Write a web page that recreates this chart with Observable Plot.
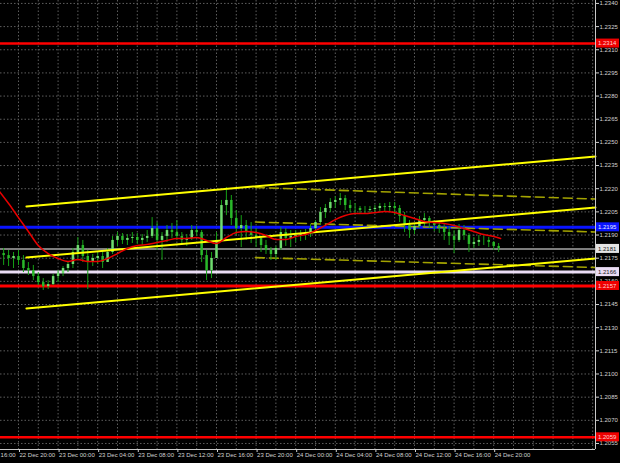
<!DOCTYPE html>
<html><head><meta charset="utf-8">
<script src="https://cdn.jsdelivr.net/npm/d3@7"></script>
<script src="https://cdn.jsdelivr.net/npm/@observablehq/plot@0.6"></script>
<style>html,body{margin:0;padding:0;background:#000;overflow:hidden}</style>
</head><body><div id="chart"></div>
<script>
// ---- price bars (30-minute bars starting 22 Dec 18:30) ----
const barStart = "2020-12-22T18:30Z";
const barStepMinutes = 30;
const firstOpen = 1.21780;
const highs = [
1.21813,1.21800,1.21787,1.21800,1.21767,1.21722,1.21703,1.21657,1.21618,1.21605,
1.21644,1.21670,1.21696,1.21722,1.21813,1.21884,1.21865,1.21800,1.21774,1.21787,
1.21800,1.21813,1.21891,1.21916,1.21910,1.21903,1.21916,1.21910,1.21903,1.21929,
1.22013,1.21981,1.21916,1.21962,1.21975,1.21994,1.21916,1.21903,1.21962,1.21955,
1.21929,1.21800,1.21787,1.21916,1.22124,1.22208,1.22156,1.22059,1.22026,1.21994,
1.21981,1.21942,1.21891,1.21865,1.21819,1.21826,1.21949,1.21942,1.21929,1.21929,
1.21929,1.21936,1.21968,1.21994,1.22078,1.22098,1.22136,1.22149,1.22169,1.22156,
1.22124,1.22104,1.22085,1.22085,1.22085,1.22091,1.22104,1.22104,1.22111,1.22111,
1.22091,1.22046,1.21994,1.21975,1.22020,1.22039,1.22020,1.21994,1.21981,1.21968,
1.21955,1.21929,1.21968,1.21962,1.21910,1.21884,1.21897,1.21891,1.21884,1.21858,
1.21845];
const lows = [
1.21703,1.21696,1.21683,1.21703,1.21657,1.21638,1.21605,1.21573,1.21541,1.21547,
1.21573,1.21592,1.21631,1.21657,1.21683,1.21748,1.21722,1.21547,1.21696,1.21709,
1.21683,1.21722,1.21774,1.21826,1.21839,1.21832,1.21845,1.21839,1.21832,1.21852,
1.21878,1.21800,1.21735,1.21852,1.21878,1.21865,1.21832,1.21826,1.21865,1.21891,
1.21722,1.21605,1.21618,1.21748,1.21865,1.22026,1.21962,1.21897,1.21819,1.21865,
1.21845,1.21819,1.21787,1.21774,1.21735,1.21735,1.21800,1.21826,1.21819,1.21852,
1.21858,1.21865,1.21884,1.21916,1.21968,1.22007,1.22046,1.22072,1.22091,1.22059,
1.22046,1.22039,1.22033,1.22033,1.22039,1.22039,1.22046,1.22046,1.22046,1.22026,
1.21981,1.21916,1.21878,1.21903,1.21942,1.21955,1.21942,1.21923,1.21910,1.21865,
1.21832,1.21780,1.21852,1.21865,1.21787,1.21813,1.21826,1.21832,1.21819,1.21800,
1.21787];
const closes = [
1.21767,1.21748,1.21761,1.21735,1.21683,1.21670,1.21631,1.21592,1.21566,1.21579,
1.21631,1.21651,1.21683,1.21709,1.21787,1.21832,1.21761,1.21722,1.21748,1.21761,
1.21722,1.21787,1.21865,1.21891,1.21865,1.21878,1.21884,1.21865,1.21878,1.21891,
1.21942,1.21865,1.21891,1.21929,1.21916,1.21891,1.21865,1.21878,1.21929,1.21916,
1.21767,1.21670,1.21748,1.21865,1.22091,1.22124,1.22007,1.21942,1.21962,1.21916,
1.21897,1.21878,1.21832,1.21800,1.21774,1.21813,1.21916,1.21878,1.21891,1.21897,
1.21910,1.21916,1.21942,1.21981,1.22046,1.22072,1.22111,1.22124,1.22136,1.22091,
1.22072,1.22072,1.22059,1.22059,1.22065,1.22072,1.22085,1.22078,1.22085,1.22072,
1.22020,1.21962,1.21929,1.21955,1.21994,1.22007,1.21975,1.21962,1.21942,1.21916,
1.21891,1.21865,1.21929,1.21897,1.21839,1.21852,1.21865,1.21865,1.21852,1.21826,
1.21813];

// ---- moving average (hourly from 22 Dec 18:00) ----
const maStart = "2020-12-22T18:00Z";
const maValues = [
1.22188,1.22104,1.22013,1.21923,1.21832,1.21780,1.21748,1.21729,1.21742,1.21729,
1.21729,1.21748,1.21780,1.21813,1.21832,1.21839,1.21852,1.21865,1.21878,1.21878,
1.21884,1.21865,1.21845,1.21884,1.21916,1.21923,1.21916,1.21897,1.21871,1.21871,
1.21891,1.21903,1.21929,1.21962,1.22000,1.22026,1.22039,1.22039,1.22046,1.22052,
1.22046,1.22026,1.22007,1.21988,1.21981,1.21975,1.21962,1.21942,1.21923,1.21903,
1.21891];
const maLastTime = "2020-12-24T20:42Z";
const maLastValue = 1.21878;

// ---- trend channel (solid) and regression lines (dashed) ----
const channelTimes = ["2020-12-22T20:48Z", "2020-12-25T06:17Z"];
const channelUpper = [1.22085, 1.22409];
const channelMiddle = [1.21754, 1.22078];
const channelLower = [1.21424, 1.21748];
const dashTimes = ["2020-12-23T19:56Z", "2020-12-25T06:17Z"];
const dashUpper = [1.22208, 1.22133];
const dashMiddle = [1.21984, 1.21920];
const dashLower = [1.21754, 1.21690];

// ---- horizontal levels ----
const levels = [1.2314, 1.2195, 1.2181, 1.2166, 1.2157, 1.2059];
const levelStroke = ["#ff0000", "#0a14ff", "#7d7d7d", "#eadcf4", "#ff0000", "#ff0000"];
const levelWidth = [2.5, 3, 2, 3, 3, 2.5];
const levelBoxFill = ["#ee0000", "#0a14ff", "#e4e4e4", "#eadcf4", "#ee0000", "#ee0000"];
const levelBoxText = ["#ffd0d0", "#e8e8ff", "#202020", "#202020", "#ffd0d0", "#ffd0d0"];

// ---- axes ----
const priceTicks = [1.2055,1.2070,1.2085,1.2100,1.2115,1.2130,1.2145,1.2160,1.2175,1.2190,
  1.2205,1.2220,1.2235,1.2250,1.2265,1.2280,1.2295,1.2310,1.2325,1.2340];
const timeTicks = ["2020-12-22T16:00Z","2020-12-22T20:00Z","2020-12-23T00:00Z","2020-12-23T04:00Z",
  "2020-12-23T08:00Z","2020-12-23T12:00Z","2020-12-23T16:00Z","2020-12-23T20:00Z",
  "2020-12-24T00:00Z","2020-12-24T04:00Z","2020-12-24T08:00Z","2020-12-24T12:00Z",
  "2020-12-24T16:00Z","2020-12-24T20:00Z"].map(d => new Date(d));
const xDomain = [new Date("2020-12-22T18:11Z"), new Date("2020-12-25T06:17Z")];
const yDomain = [1.20511, 1.23419];

// ---- build tables ----
const t0 = new Date(barStart).getTime();
const bars = highs.map((h, i) => ({
  time: new Date(t0 + i * barStepMinutes * 60000),
  high: h, low: lows[i], close: closes[i],
  open: i === 0 ? firstOpen : closes[i - 1]
}));
const m0 = new Date(maStart).getTime();
const ma = maValues.map((v, i) => ({time: new Date(m0 + i * 3600000), value: v}));
ma.push({time: new Date(maLastTime), value: maLastValue});
const seg = (times, vals) => times.map((t, i) => ({time: new Date(t), value: vals[i]}));
const gridTimes = d3.utcHour.every(2).range(new Date("2020-12-22T18:00Z"), new Date("2020-12-25T07:00Z"));
const levelData = levels.map((v, i) => ({value: v, i}));

const gridStyle = {stroke: "#5e5e5e", strokeDasharray: "1.5,2", strokeWidth: 1};
const chart = Plot.plot({
  width: 620, height: 463,
  marginLeft: 0, marginRight: 25, marginTop: 0, marginBottom: 14,
  style: {background: "#000", color: "#d2d2d2", fontFamily: "'Liberation Sans', Arial, sans-serif", fontSize: "6px"},
  x: {type: "utc", domain: xDomain},
  y: {domain: yDomain},
  marks: [
    Plot.ruleX(gridTimes, gridStyle),
    Plot.ruleY(priceTicks, gridStyle),
    Plot.ruleY(levelData, {y: "value", stroke: d => levelStroke[d.i], strokeWidth: d => levelWidth[d.i]}),
    Plot.line(seg(dashTimes, dashUpper), {x: "time", y: "value", stroke: "#a3a300", strokeWidth: 1.6, strokeDasharray: "9,5"}),
    Plot.line(seg(dashTimes, dashMiddle), {x: "time", y: "value", stroke: "#a3a300", strokeWidth: 1.6, strokeDasharray: "9,5"}),
    Plot.line(seg(dashTimes, dashLower), {x: "time", y: "value", stroke: "#a3a300", strokeWidth: 1.6, strokeDasharray: "9,5"}),
    Plot.ruleX(bars, {x: "time", y1: "low", y2: "high", stroke: "#16a016", strokeWidth: 1}),
    Plot.ruleX(bars, {x: "time", y1: "open", y2: "close", stroke: d => d.close >= d.open ? "#6fdc6f" : "#2ab82a", strokeWidth: 2.5}),
    Plot.line(seg(channelTimes, channelUpper), {x: "time", y: "value", stroke: "#ffff00", strokeWidth: 2}),
    Plot.line(seg(channelTimes, channelMiddle), {x: "time", y: "value", stroke: "#ffff00", strokeWidth: 2}),
    Plot.line(seg(channelTimes, channelLower), {x: "time", y: "value", stroke: "#ffff00", strokeWidth: 2}),
    Plot.line(ma, {x: "time", y: "value", stroke: "#e80000", strokeWidth: 1.5, curve: "monotone-x"}),
    Plot.ruleX([xDomain[1]], {stroke: "#c8c8c8", strokeWidth: 1}),
    Plot.ruleY([yDomain[0]], {stroke: "#c8c8c8", strokeWidth: 1}),
    Plot.axisY({anchor: "right", ticks: priceTicks, tickFormat: d => d.toFixed(4), tickSize: 3, tickPadding: 1, label: null}),
    Plot.axisX({anchor: "bottom", ticks: timeTicks, tickFormat: d3.utcFormat("%d %b %H:%M"), tickSize: 3, tickPadding: 0, textAnchor: "start", dx: 1, label: null})
  ]
});

// price tags for the horizontal levels, placed with the plot's own y scale
const ys = chart.scale("y");
const g = d3.select(chart).append("g").attr("text-anchor", "start");
levels.forEach((v, i) => {
  const y = ys.apply(v);
  g.append("rect").attr("x", 596).attr("y", y - 4.5).attr("width", 23).attr("height", 9).attr("fill", levelBoxFill[i]);
  g.append("text").attr("x", 598).attr("y", y).attr("dy", "0.35em").attr("text-anchor", "start")
    .attr("fill", levelBoxText[i]).attr("font-size", 6).text(v.toFixed(4));
});
document.getElementById("chart").appendChild(chart);
</script>
</body></html>
